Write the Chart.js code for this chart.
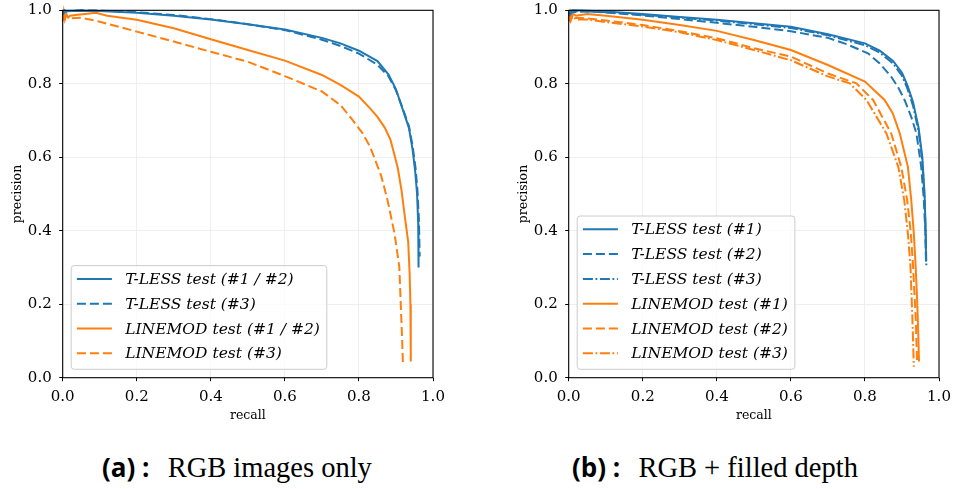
<!DOCTYPE html>
<html>
<head>
<meta charset="utf-8">
<script src="https://cdn.jsdelivr.net/npm/chart.js@4.4.1/dist/chart.umd.min.js"></script>
<style>
  body { margin: 0; background: #fff; width: 954px; height: 489px; position: relative; overflow: hidden; }
  .panel { position: absolute; top: 0; width: 448px; height: 430px; }
  .caption { position: absolute; top: 453px; font-family: 'Liberation Serif', serif; font-size: 28.5px; line-height: 28.5px; color: #000; white-space: nowrap; }
  .caption b { font-family: 'Open Sans', sans-serif; font-size: 26px; font-weight: 700; margin-right: 11px; }
</style>
</head>
<body>
<div class="panel" style="left:0"><canvas id="rgbChart" width="448" height="430"></canvas></div>
<div class="panel" style="left:506px"><canvas id="depthChart" width="448" height="430"></canvas></div>
<div class="caption" style="left:102px"><b>(a) :</b> RGB images only</div>
<div class="caption" style="left:572px"><b>(b) :</b> RGB + filled depth</div>
<script>
const BLUE = '#1f77b4'
const ORANGE = '#ff7f0e'

// (a) RGB images only
const rgbTlessRecall = [0, 0.005, 0.01, 0.05, 0.1, 0.2, 0.3, 0.4, 0.5, 0.6, 0.7, 0.75, 0.8, 0.85, 0.88, 0.9, 0.92, 0.935, 0.945, 0.952, 0.957, 0.96, 0.961]
const rgbTlessPrecision = [0.995, 1.0, 0.998, 0.999, 0.998, 0.993, 0.985, 0.975, 0.962, 0.948, 0.925, 0.91, 0.89, 0.862, 0.825, 0.785, 0.725, 0.68, 0.62, 0.56, 0.5, 0.42, 0.30]
const rgbTless3Recall = [0, 0.01, 0.05, 0.1, 0.2, 0.3, 0.4, 0.5, 0.6, 0.7, 0.75, 0.8, 0.85, 0.88, 0.9, 0.92, 0.935, 0.945, 0.953, 0.958, 0.962, 0.964]
const rgbTless3Precision = [0.99, 0.997, 1.0, 0.999, 0.995, 0.987, 0.976, 0.962, 0.946, 0.92, 0.903, 0.882, 0.852, 0.82, 0.782, 0.728, 0.685, 0.63, 0.57, 0.51, 0.43, 0.33]
const rgbLinemodRecall = [0, 0.003, 0.006, 0.01, 0.015, 0.02, 0.04, 0.06, 0.09, 0.12, 0.2, 0.3, 0.4, 0.5, 0.6, 0.7, 0.75, 0.8, 0.83, 0.85, 0.87, 0.885, 0.895, 0.905, 0.915, 0.925, 0.933, 0.937, 0.939, 0.94]
const rgbLinemodPrecision = [0.97, 0.995, 0.975, 0.99, 0.98, 0.985, 0.988, 0.99, 0.993, 0.985, 0.974, 0.951, 0.921, 0.892, 0.863, 0.824, 0.797, 0.765, 0.733, 0.71, 0.68, 0.648, 0.61, 0.57, 0.51, 0.43, 0.37, 0.28, 0.2, 0.044]
const rgbLinemod3Recall = [0, 0.005, 0.01, 0.02, 0.05, 0.1, 0.2, 0.3, 0.4, 0.5, 0.6, 0.65, 0.7, 0.75, 0.78, 0.81, 0.83, 0.86, 0.877, 0.896, 0.909, 0.916, 0.919]
const rgbLinemod3Precision = [0.99, 0.98, 0.985, 0.978, 0.98, 0.969, 0.942, 0.915, 0.887, 0.86, 0.821, 0.8, 0.779, 0.742, 0.705, 0.665, 0.629, 0.55, 0.484, 0.393, 0.302, 0.121, 0.035]

// (b) RGB + filled depth
const depthTless1Recall = [0, 0.01, 0.05, 0.1, 0.2, 0.3, 0.4, 0.5, 0.6, 0.7, 0.8, 0.84, 0.876, 0.9, 0.915, 0.93, 0.945, 0.955, 0.961, 0.964, 0.965]
const depthTless1Precision = [0.995, 1.0, 0.999, 0.997, 0.99, 0.982, 0.974, 0.965, 0.955, 0.935, 0.91, 0.89, 0.862, 0.83, 0.795, 0.75, 0.68, 0.6, 0.5, 0.4, 0.316]
const depthTless2Recall = [0, 0.01, 0.05, 0.1, 0.2, 0.3, 0.4, 0.5, 0.6, 0.7, 0.75, 0.808, 0.84, 0.871, 0.89, 0.907, 0.925, 0.939, 0.952, 0.959, 0.963, 0.965]
const depthTless2Precision = [0.985, 0.995, 0.997, 0.994, 0.986, 0.976, 0.966, 0.955, 0.943, 0.925, 0.908, 0.883, 0.855, 0.819, 0.79, 0.756, 0.71, 0.665, 0.574, 0.484, 0.4, 0.31]
const depthTless3Recall = [0, 0.01, 0.05, 0.1, 0.2, 0.3, 0.4, 0.5, 0.6, 0.7, 0.8, 0.84, 0.876, 0.9, 0.915, 0.93, 0.945, 0.955, 0.961, 0.964, 0.966]
const depthTless3Precision = [0.99, 0.998, 0.997, 0.995, 0.988, 0.98, 0.972, 0.962, 0.952, 0.932, 0.905, 0.885, 0.855, 0.822, 0.786, 0.74, 0.67, 0.59, 0.49, 0.39, 0.30]
const depthLinemod1Recall = [0, 0.004, 0.008, 0.012, 0.02, 0.05, 0.1, 0.2, 0.3, 0.4, 0.5, 0.6, 0.7, 0.8, 0.853, 0.875, 0.894, 0.916, 0.925, 0.932, 0.937, 0.941, 0.944, 0.946]
const depthLinemod1Precision = [0.975, 0.995, 0.98, 0.99, 0.985, 0.99, 0.985, 0.974, 0.96, 0.944, 0.919, 0.892, 0.851, 0.806, 0.756, 0.72, 0.665, 0.574, 0.484, 0.393, 0.302, 0.211, 0.12, 0.044]
const depthLinemod2Recall = [0, 0.005, 0.01, 0.02, 0.05, 0.1, 0.2, 0.3, 0.4, 0.5, 0.6, 0.7, 0.777, 0.822, 0.871, 0.898, 0.914, 0.924, 0.93, 0.937, 0.941]
const depthLinemod2Precision = [0.97, 0.985, 0.975, 0.98, 0.978, 0.972, 0.96, 0.943, 0.924, 0.897, 0.874, 0.828, 0.801, 0.756, 0.665, 0.574, 0.484, 0.393, 0.302, 0.166, 0.04]
const depthLinemod3Recall = [0, 0.005, 0.01, 0.02, 0.05, 0.1, 0.2, 0.3, 0.4, 0.5, 0.6, 0.7, 0.759, 0.804, 0.858, 0.89, 0.906, 0.916, 0.923, 0.928, 0.932]
const depthLinemod3Precision = [0.98, 0.97, 0.985, 0.975, 0.975, 0.968, 0.956, 0.94, 0.919, 0.892, 0.864, 0.82, 0.801, 0.756, 0.665, 0.574, 0.484, 0.393, 0.302, 0.166, 0.03]

const SOLID = []
const DASHED = [9, 4]
const DASHDOT = [10, 2.6, 1.8, 2.6]

const tickFont = { family: 'DejaVu Serif', size: 15 }
const titleFont = { family: 'DejaVu Serif', size: 12.5 }
const legendFont = 'italic 15.5px "DejaVu Serif"'

// axes frame (all four spines)
const framePlugin = {
  id: 'frame',
  afterDatasetsDraw(chart) {
    const { ctx, chartArea: a } = chart
    ctx.save()
    ctx.strokeStyle = '#000'
    ctx.lineWidth = 1.1
    ctx.strokeRect(a.left, a.top, a.right - a.left, a.bottom - a.top)
    ctx.restore()
  },
}

// legend in a rounded box, lower left corner of the plot
const boxLegendPlugin = {
  id: 'boxLegend',
  afterDraw(chart) {
    const { ctx, chartArea: a } = chart
    const sets = chart.data.datasets
    const rowH = 24.8
    ctx.save()
    ctx.font = legendFont
    const textW = Math.max(...sets.map((d) => ctx.measureText(d.label).width))
    const w = 54 + textW + 7
    const h = 13.3 + (sets.length - 1) * rowH + 16
    const x = a.left + 8.5
    const y = a.bottom - 8.4 - h
    ctx.beginPath()
    ctx.roundRect(x, y, w, h, 3)
    ctx.fillStyle = 'rgba(255,255,255,0.8)'
    ctx.fill()
    ctx.strokeStyle = '#cccccc'
    ctx.lineWidth = 1
    ctx.stroke()
    sets.forEach((d, i) => {
      const cy = y + 13.3 + i * rowH
      ctx.beginPath()
      ctx.setLineDash(d.borderDash)
      ctx.strokeStyle = d.borderColor
      ctx.lineWidth = d.borderWidth
      ctx.moveTo(x + 5.7, cy)
      ctx.lineTo(x + 40.7, cy)
      ctx.stroke()
      ctx.setLineDash([])
      ctx.fillStyle = '#000'
      ctx.textBaseline = 'middle'
      ctx.fillText(d.label, x + 54, cy + 1)
    })
    ctx.restore()
  },
}

function curve(label, recall, precision, color, dash) {
  return {
    label,
    data: recall.map((r, i) => ({ x: r, y: precision[i] })),
    showLine: true,
    borderColor: color,
    backgroundColor: color,
    borderWidth: 2,
    borderDash: dash,
    pointRadius: 0,
    tension: 0,
    clip: false,
  }
}

function axis(title, extra) {
  return Object.assign({
    type: 'linear',
    min: 0,
    max: 1,
    grid: { color: '#ebebeb', lineWidth: 0.8, tickColor: '#000', tickLength: 3.5, tickWidth: 1 },
    border: { display: false },
  }, extra, { title: Object.assign({ display: true, text: title, font: titleFont, color: '#000' }, extra.title) })
}

// the layout padding alone decides where the plot box sits
function noLabelPadding(s) {
  s.paddingLeft = 0
  s.paddingRight = 0
  s.paddingTop = 0
  s.paddingBottom = 0
}

function makeChart(id, datasets) {
  new Chart(document.getElementById(id), {
    type: 'scatter',
    data: { datasets },
    options: {
      responsive: false,
      animation: false,
      layout: { padding: { top: 10.3, right: 15, bottom: 0, left: 0 } },
      plugins: { legend: { display: false }, tooltip: { enabled: false } },
      scales: {
        x: axis('recall', {
          ticks: { stepSize: 0.2, autoSkip: false, maxRotation: 0, font: tickFont, color: '#000', padding: 7, callback: (v) => v.toFixed(1) },
          title: { padding: { top: 0, bottom: 7 } },
          afterFit: (s) => { s.height = 52.3; noLabelPadding(s) },
        }),
        y: axis('precision', {
          ticks: { stepSize: 0.2, autoSkip: false, font: tickFont, color: '#000', padding: 7.5, callback: (v) => v.toFixed(1) },
          title: { padding: { top: 10, bottom: 0 } },
          afterFit: (s) => { s.width = 62.7; noLabelPadding(s) },
        }),
      },
    },
    plugins: [framePlugin, boxLegendPlugin],
  })
}

makeChart('rgbChart', [
  curve('T-LESS test (#1 / #2)', rgbTlessRecall, rgbTlessPrecision, BLUE, SOLID),
  curve('T-LESS test (#3)', rgbTless3Recall, rgbTless3Precision, BLUE, DASHED),
  curve('LINEMOD test (#1 / #2)', rgbLinemodRecall, rgbLinemodPrecision, ORANGE, SOLID),
  curve('LINEMOD test (#3)', rgbLinemod3Recall, rgbLinemod3Precision, ORANGE, DASHED),
])

makeChart('depthChart', [
  curve('T-LESS test (#1)', depthTless1Recall, depthTless1Precision, BLUE, SOLID),
  curve('T-LESS test (#2)', depthTless2Recall, depthTless2Precision, BLUE, DASHED),
  curve('T-LESS test (#3)', depthTless3Recall, depthTless3Precision, BLUE, DASHDOT),
  curve('LINEMOD test (#1)', depthLinemod1Recall, depthLinemod1Precision, ORANGE, SOLID),
  curve('LINEMOD test (#2)', depthLinemod2Recall, depthLinemod2Precision, ORANGE, DASHED),
  curve('LINEMOD test (#3)', depthLinemod3Recall, depthLinemod3Precision, ORANGE, DASHDOT),
])
</script>
</body>
</html>
